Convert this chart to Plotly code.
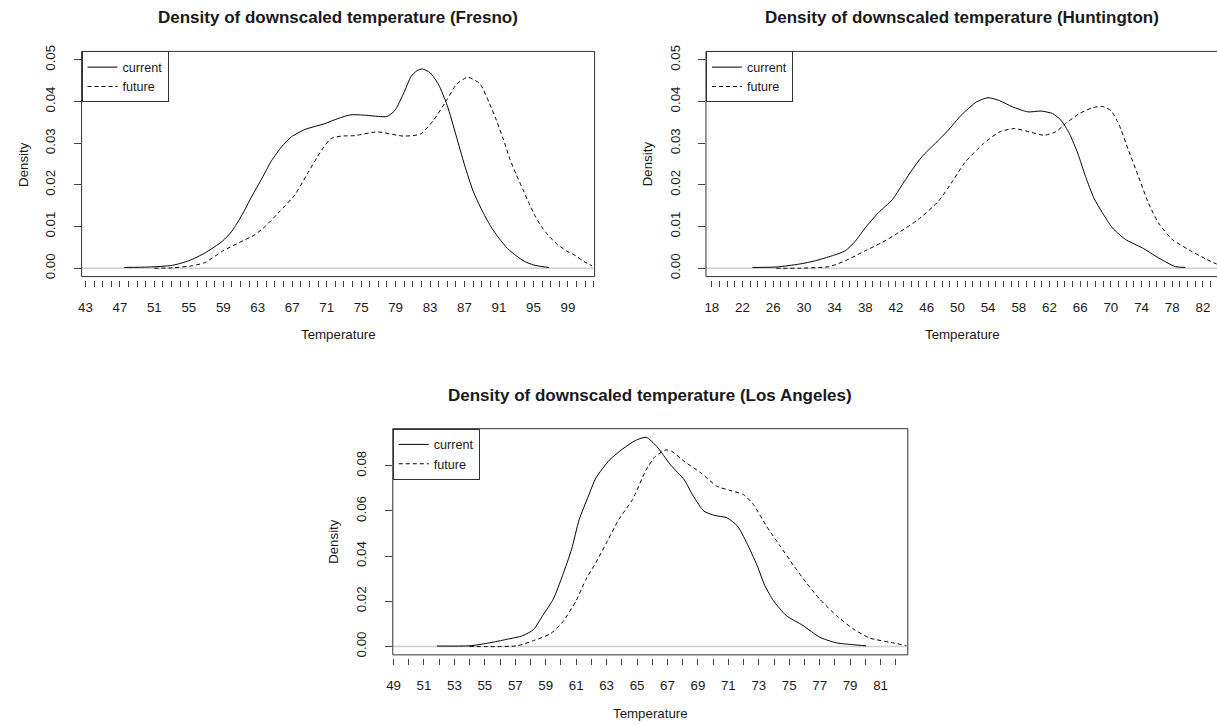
import plotly.graph_objects as go

# ---------------- data ----------------
fresno_cur_T = [47.5, 50.4, 53.1, 55.0, 56.9, 58.9, 60.0, 61.2, 62.3, 63.5, 64.6, 65.8, 66.9, 68.5,
                70.8, 72.3, 73.8, 75.5, 77.0, 78.0, 78.9, 79.9, 80.8, 81.5, 82.1, 83.0, 84.0, 85.0,
                86.0, 87.0, 88.0, 89.0, 90.0, 91.0, 92.0, 93.0, 94.0, 95.0, 96.0, 96.8]
fresno_cur_D = [0.0002, 0.0003, 0.0007, 0.0018, 0.0037, 0.0065, 0.0089, 0.0129, 0.0172, 0.0216,
                0.0258, 0.0292, 0.0315, 0.0333, 0.0347, 0.0359, 0.0368, 0.0367, 0.0364, 0.0364,
                0.0378, 0.0418, 0.0460, 0.0474, 0.0478, 0.0469, 0.0440, 0.0390, 0.0320, 0.0248,
                0.0185, 0.0140, 0.0102, 0.0072, 0.0047, 0.0030, 0.0016, 0.0008, 0.0004, 0.0002]
fresno_fut_T = [51.0, 53.1, 55.4, 56.9, 58.9, 60.8, 62.7, 63.9, 65.4, 67.3, 68.8, 70.4, 71.5, 72.7,
                74.2, 76.9, 79.9, 81.9, 83.4, 84.9, 86.1, 87.4, 88.8, 89.9, 90.7, 91.5, 92.3, 93.0,
                93.8, 94.5, 95.2, 96.0, 96.8, 97.8, 98.8, 99.9, 100.8, 101.8]
fresno_fut_D = [0.0000, 0.0001, 0.0006, 0.0014, 0.0041, 0.0061, 0.0081, 0.0101, 0.0133, 0.0176,
                0.0228, 0.0283, 0.0311, 0.0317, 0.0318, 0.0327, 0.0317, 0.0322, 0.0355, 0.0402,
                0.0442, 0.0458, 0.0442, 0.0395, 0.0355, 0.0310, 0.0260, 0.0225, 0.0188, 0.0155,
                0.0125, 0.0098, 0.0077, 0.0057, 0.0042, 0.0030, 0.0017, 0.0006]

hunt_cur_T = [23.3, 26.4, 29.4, 31.5, 33.7, 35.4, 36.7, 38.0, 39.7, 41.5, 42.8, 44.1, 45.4, 47.1,
              48.8, 50.5, 52.5, 54.0, 55.5, 57.2, 59.2, 60.9, 62.4, 63.5, 64.6, 65.7, 66.7, 67.8,
              68.9, 70.2, 71.9, 74.1, 76.2, 78.4, 79.7]
hunt_cur_D = [0.0002, 0.0003, 0.0010, 0.0018, 0.0030, 0.0042, 0.0065, 0.0097, 0.0133, 0.0164,
              0.0200, 0.0236, 0.0268, 0.0299, 0.0331, 0.0367, 0.0399, 0.0409, 0.0402, 0.0387,
              0.0375, 0.0377, 0.0371, 0.0355, 0.0323, 0.0275, 0.0220, 0.0168, 0.0133, 0.0097,
              0.0069, 0.0049, 0.0025, 0.0004, 0.0002]
hunt_fut_T = [26.4, 29.4, 33.3, 35.4, 38.0, 40.2, 42.3, 44.9, 47.5, 49.2, 51.0, 53.4, 55.5, 57.4,
              59.4, 61.3, 62.8, 64.1, 65.9, 67.6, 68.9, 70.0, 71.0, 72.3, 73.6, 74.9, 76.2, 78.0,
              80.1, 82.3, 83.8]
hunt_fut_D = [0.0000, 0.0000, 0.0004, 0.0018, 0.0042, 0.0062, 0.0085, 0.0117, 0.0160, 0.0204,
              0.0254, 0.0299, 0.0327, 0.0335, 0.0327, 0.0319, 0.0327, 0.0347, 0.0371, 0.0385,
              0.0388, 0.0378, 0.0347, 0.0283, 0.0220, 0.0156, 0.0109, 0.0069, 0.0045, 0.0023,
              0.0010]

la_cur_T = [51.85, 54.0, 55.3, 56.4, 57.5, 58.2, 58.8, 59.5, 60.1, 60.7, 61.2, 61.8, 62.3, 63.2,
            64.05, 64.9, 65.6, 66.3, 67.2, 68.1, 68.7, 69.4, 70.1, 70.9, 71.6, 72.2, 72.9, 73.4,
            73.96, 74.8, 75.9, 77.0, 78.1, 79.2, 80.05]
la_cur_D = [0.0002, 0.0003, 0.0016, 0.0031, 0.0048, 0.0075, 0.0137, 0.0210, 0.0313, 0.0430,
            0.0562, 0.0665, 0.0746, 0.0826, 0.0874, 0.0912, 0.0926, 0.0885, 0.0804, 0.0738,
            0.0665, 0.0599, 0.0580, 0.0570, 0.0533, 0.0460, 0.0357, 0.0269, 0.0203, 0.0137,
            0.0093, 0.0041, 0.0016, 0.0008, 0.0003]
la_fut_T = [54.0, 57.1, 58.2, 59.3, 60.1, 61.0, 61.65, 62.3, 63.0, 63.8, 64.7, 65.6, 66.2, 66.9,
            67.3, 68.1, 69.2, 70.25, 71.1, 72.0, 72.65, 73.5, 74.4, 75.3, 76.1, 77.0, 78.1, 79.2,
            80.3, 81.6, 82.7]
la_fut_D = [0.0000, 0.0003, 0.0026, 0.0056, 0.0107, 0.0203, 0.0298, 0.0372, 0.0460, 0.0562,
            0.0650, 0.0782, 0.0841, 0.0870, 0.0863, 0.0819, 0.0768, 0.0709, 0.0691, 0.0672,
            0.0628, 0.0533, 0.0445, 0.0357, 0.0284, 0.0210, 0.0137, 0.0078, 0.0037, 0.0019,
            0.0004]

titles = ["Density of downscaled temperature (Fresno)",
          "Density of downscaled temperature (Huntington)",
          "Density of downscaled temperature (Los Angeles)"]
series_names = ["current", "future"]
y_ticks_small = [0.00, 0.01, 0.02, 0.03, 0.04, 0.05]
y_ticks_la = [0.00, 0.02, 0.04, 0.06, 0.08]

# ---------------- layout helpers ----------------
W, H = 1217, 725
FONT = "Liberation Sans, Arial, sans-serif"
INK = "#1a1a1a"
AX = "#444444"
FS = 13.3
FS_TITLE = 17
FS_LEG = 12.6


def fx(p):
    return p / W


def fy(p):
    return 1 - p / H


panels = [
    dict(data=(fresno_cur_T, fresno_cur_D, fresno_fut_T, fresno_fut_D), box=(75, 591, 46, 274),
         xr=[42.55, 102.1], yr=[-0.002, 0.052], tick0=43, dtick=4, yt=y_ticks_small, open_right=False),
    dict(data=(hunt_cur_T, hunt_cur_D, hunt_fut_T, hunt_fut_D), box=(703, 1217, 46, 274),
         xr=[17.24, 83.83], yr=[-0.002, 0.052], tick0=18, dtick=4, yt=y_ticks_small, open_right=True),
    dict(data=(la_cur_T, la_cur_D, la_fut_T, la_fut_D), box=(388, 906, 428, 657),
         xr=[48.95, 82.79], yr=[-0.0037, 0.0964], tick0=49, dtick=2, yt=y_ticks_la, open_right=False),
]

fig = go.Figure()
shapes = []
annotations = []
layout = dict(width=W, height=H, autosize=False, margin=dict(l=0, r=0, t=0, b=0),
              paper_bgcolor="white", plot_bgcolor="white", showlegend=True,
              font=dict(family=FONT, size=FS, color=INK), hovermode=False)

for i, p in enumerate(panels):
    n = "" if i == 0 else str(i + 1)
    xa, ya = "x" + n, "y" + n
    leg = "legend" + n
    l, r, t, b = p["box"]
    cT, cD, fT, fD = p["data"]
    fig.add_trace(go.Scatter(x=cT, y=cD, mode="lines", name=series_names[0], legend=leg,
                             line=dict(color="black", width=1, shape="spline", smoothing=0.6),
                             xaxis=xa, yaxis=ya))
    fig.add_trace(go.Scatter(x=fT, y=fD, mode="lines", name=series_names[1], legend=leg,
                             line=dict(color="black", width=1, dash="4px,3px", shape="spline",
                                       smoothing=0.6),
                             xaxis=xa, yaxis=ya))
    layout["xaxis" + n] = dict(
        domain=[fx(l), min(fx(r), 1.0)], range=p["xr"], anchor="free", position=fy(b + 3),
        showgrid=False, zeroline=False, showline=False,
        tick0=p["tick0"], dtick=p["dtick"], ticks="outside", ticklen=6, tickwidth=1,
        tickcolor=AX, tickfont=dict(size=FS, color=INK, family=FONT), ticklabelstandoff=9,
        minor=dict(dtick=1, tick0=p["tick0"], ticks="outside", ticklen=6, tickwidth=1,
                   tickcolor=AX, showgrid=False),
        fixedrange=True)
    layout["yaxis" + n] = dict(
        domain=[fy(b), fy(t)], range=p["yr"], anchor=xa, showgrid=False, zeroline=False,
        showline=False, tickvals=p["yt"], ticktext=["%.2f" % v for v in p["yt"]],
        ticks="outside", ticklen=7, tickwidth=1, tickcolor=AX, tickangle=-90,
        ticklabelstandoff=13,
        tickfont=dict(size=FS, color=INK, family=FONT), fixedrange=True)
    layout[leg] = dict(x=fx(l), y=fy(t), xanchor="left", yanchor="top", xref="paper",
                       yref="paper", bgcolor="white", bordercolor="#333333", borderwidth=1,
                       font=dict(size=FS_LEG, color=INK, family=FONT), tracegroupgap=0,
                       itemwidth=30)
    # zero reference line
    shapes.append(dict(type="line", xref=xa + " domain", yref=ya, x0=0, x1=1, y0=0, y1=0,
                       line=dict(color="#cfcfcf", width=1.5), layer="below"))
    # plot box
    x1 = 1.01 if p["open_right"] else 1
    shapes.append(dict(type="rect", xref=xa + " domain", yref=ya + " domain", x0=0, x1=x1,
                       y0=0, y1=1, line=dict(color="#333333", width=1), layer="above"))
    cx = (l + r) / 2 if not p["open_right"] else (l + r + 2) / 2
    annotations.append(dict(text="<b>%s</b>" % titles[i], xref="paper", yref="paper",
                            x=fx(cx), y=fy(t - 34), xanchor="center", yanchor="middle",
                            showarrow=False, font=dict(size=FS_TITLE, color=INK, family=FONT)))
    annotations.append(dict(text="Temperature", xref="paper", yref="paper", x=fx(cx),
                            y=fy(b + 59), xanchor="center", yanchor="middle", showarrow=False,
                            font=dict(size=FS, color=INK, family=FONT)))
    annotations.append(dict(text="Density", xref="paper", yref="paper", x=fx(l - 59),
                            y=fy((t + b) / 2), xanchor="center", yanchor="middle",
                            textangle=-90, showarrow=False,
                            font=dict(size=FS, color=INK, family=FONT)))

layout["shapes"] = shapes
layout["annotations"] = annotations
fig.update_layout(**layout)
fig.write_html("out.html")
